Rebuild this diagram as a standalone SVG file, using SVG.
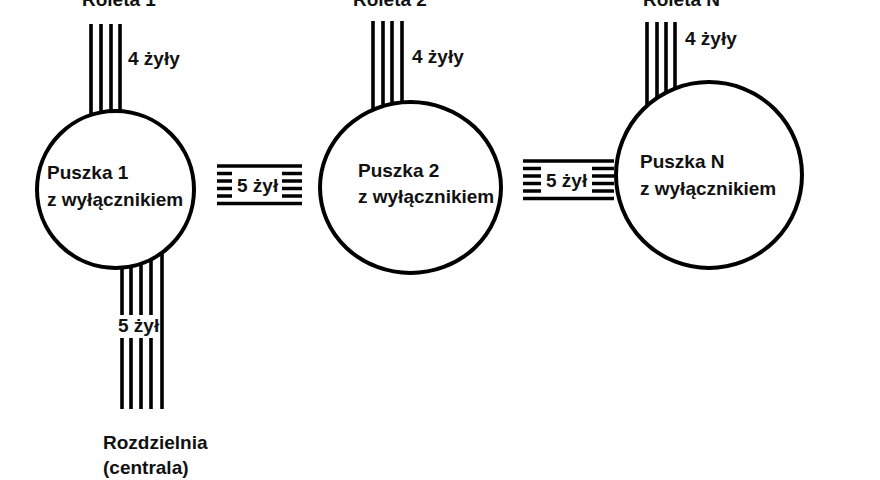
<svg xmlns="http://www.w3.org/2000/svg" width="880" height="480" viewBox="0 0 880 480">
<style>
.w{stroke:#000;stroke-width:3.6;fill:none}
.c{stroke:#000;stroke-width:4;fill:#fff}
.t{font-family:"Liberation Sans",Arial,sans-serif;font-weight:bold;font-size:19px;fill:#111}
.box{fill:#fff}
</style>
<rect width="880" height="480" fill="#fff"/>
<g id="connectors">
  <!-- Roleta 1 wires -->
  <g id="wires-r1" class="w">
    <line x1="91" y1="24" x2="91" y2="118"/>
    <line x1="101" y1="24" x2="101" y2="115"/>
    <line x1="111" y1="24" x2="111" y2="115"/>
    <line x1="120" y1="24" x2="120" y2="115"/>
  </g>
  <!-- Roleta 2 wires -->
  <g id="wires-r2" class="w">
    <line x1="373" y1="21" x2="373" y2="115"/>
    <line x1="383" y1="21" x2="383" y2="112"/>
    <line x1="392" y1="21" x2="392" y2="110"/>
    <line x1="402" y1="21" x2="402" y2="108"/>
  </g>
  <!-- Roleta N wires -->
  <g id="wires-rn" class="w">
    <line x1="647" y1="22" x2="647" y2="110"/>
    <line x1="657" y1="22" x2="657" y2="102"/>
    <line x1="666" y1="22" x2="666" y2="96"/>
    <line x1="675" y1="22" x2="675" y2="92"/>
  </g>
  <!-- Puszka 1 -> Puszka 2 -->
  <g id="wires-12" class="w">
    <line x1="217" y1="166" x2="302" y2="166"/>
    <line x1="217" y1="173.5" x2="302" y2="173.5"/>
    <line x1="217" y1="181" x2="302" y2="181"/>
    <line x1="217" y1="188.5" x2="302" y2="188.5"/>
    <line x1="217" y1="196" x2="302" y2="196"/>
    <line x1="217" y1="203.5" x2="302" y2="203.5"/>
  </g>
  <rect class="box" x="232" y="169" width="50" height="31"/>
  <text class="t" x="237" y="192">5 żył</text>
  <!-- Puszka 2 -> Puszka N -->
  <g id="wires-2n" class="w">
    <line x1="523" y1="161" x2="614" y2="161"/>
    <line x1="523" y1="168.5" x2="614" y2="168.5"/>
    <line x1="523" y1="176" x2="614" y2="176"/>
    <line x1="523" y1="183.5" x2="614" y2="183.5"/>
    <line x1="523" y1="191" x2="614" y2="191"/>
    <line x1="523" y1="198.5" x2="614" y2="198.5"/>
  </g>
  <rect class="box" x="541" y="164" width="51" height="31"/>
  <text class="t" x="546" y="187">5 żył</text>
  <!-- Puszka 1 -> Rozdzielnia -->
  <g id="wires-main" class="w">
    <line x1="122" y1="260" x2="122" y2="409"/>
    <line x1="131" y1="260" x2="131" y2="409"/>
    <line x1="141" y1="258" x2="141" y2="409"/>
    <line x1="151" y1="254" x2="151" y2="409"/>
    <line x1="162" y1="250" x2="162" y2="409"/>
  </g>
  <rect class="box" x="116" y="315" width="44" height="23"/>
  <text class="t" x="118" y="332">5 żył</text>
</g>
<g id="puszka1">
  <circle class="c" cx="115.5" cy="189.5" r="78.5"/>
  <text class="t" x="47" y="179">Puszka 1</text>
  <text class="t" x="47" y="206">z wyłącznikiem</text>
</g>
<g id="puszka2">
  <ellipse class="c" cx="410.5" cy="187.5" rx="90.5" ry="85.5"/>
  <text class="t" x="358" y="177">Puszka 2</text>
  <text class="t" x="358" y="203">z wyłącznikiem</text>
</g>
<g id="puszkaN">
  <circle class="c" cx="709" cy="175" r="93"/>
  <text class="t" x="640" y="168">Puszka N</text>
  <text class="t" x="640" y="195">z wyłącznikiem</text>
</g>
<g id="roleta1">
  <text class="t" x="82" y="6">Roleta 1</text>
  <text class="t" x="128" y="65">4 żyły</text>
</g>
<g id="roleta2">
  <text class="t" x="353" y="6">Roleta 2</text>
  <text class="t" x="412" y="63">4 żyły</text>
</g>
<g id="roletaN">
  <text class="t" x="643" y="6">Roleta N</text>
  <text class="t" x="685" y="45">4 żyły</text>
</g>
<g id="rozdzielnia">
  <text class="t" x="103" y="449">Rozdzielnia</text>
  <text class="t" x="103" y="474">(centrala)</text>
</g>
</svg>
